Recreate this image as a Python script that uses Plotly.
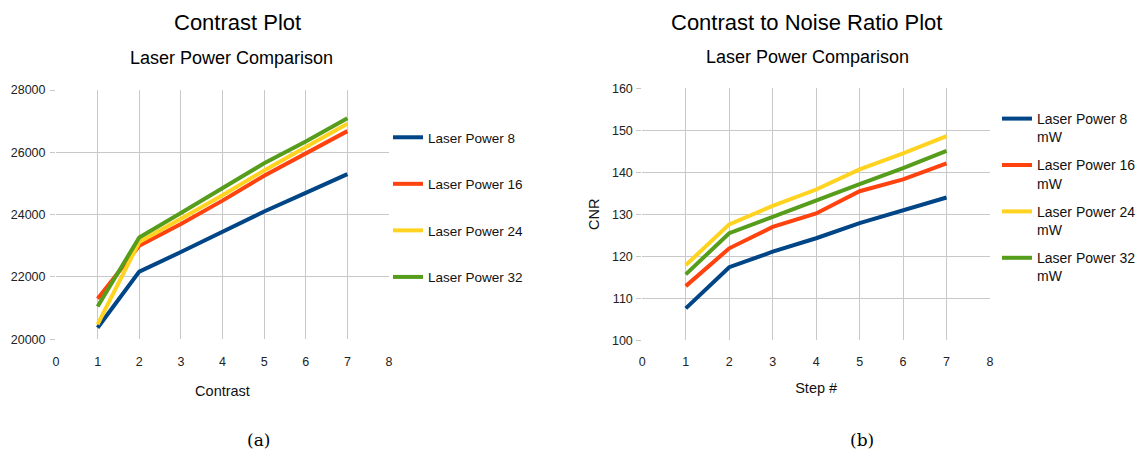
import plotly.graph_objects as go

steps = [1, 2, 3, 4, 5, 6, 7]

series_names_a = ["Laser Power 8", "Laser Power 16", "Laser Power 24", "Laser Power 32"]
series_names_b = ["Laser Power 8<br>mW", "Laser Power 16<br>mW", "Laser Power 24<br>mW", "Laser Power 32<br>mW"]

contrast_lp8 = [20370, 22170, 22800, 23450, 24100, 24700, 25300]
contrast_lp16 = [21300, 23000, 23700, 24450, 25250, 25950, 26680]
contrast_lp24 = [20480, 23120, 23870, 24620, 25420, 26180, 26920]
contrast_lp32 = [21050, 23270, 24050, 24850, 25650, 26350, 27090]

cnr_lp8 = [107.6, 117.4, 121.1, 124.3, 127.9, 131.0, 134.0]
cnr_lp16 = [112.9, 121.9, 127.0, 130.2, 135.5, 138.3, 142.1]
cnr_lp24 = [117.9, 127.6, 132.0, 135.9, 140.7, 144.5, 148.6]
cnr_lp32 = [115.7, 125.5, 129.4, 133.4, 137.2, 141.0, 145.1]

colors = ["#004586", "#FF420E", "#FFD320", "#579D1C"]

W, H = 1141, 457
FONT = "Liberation Sans, Arial, sans-serif"
GRID = "#c8c8c8"

fig = go.Figure()

for name, vals, c in zip(series_names_a,
                         [contrast_lp8, contrast_lp16, contrast_lp24, contrast_lp32], colors):
    fig.add_trace(go.Scatter(x=steps, y=vals, mode="lines", name=name,
                             line=dict(color=c, width=4), xaxis="x", yaxis="y",
                             legend="legend", legendgroup="a" + name))

for name, vals, c in zip(series_names_b,
                         [cnr_lp8, cnr_lp16, cnr_lp24, cnr_lp32], colors):
    fig.add_trace(go.Scatter(x=steps, y=vals, mode="lines", name=name,
                             line=dict(color=c, width=4), xaxis="x2", yaxis="y2",
                             legend="legend2", legendgroup="b" + name))


def px_x(p):
    return p / W


def px_y(p):
    return 1 - p / H


axis_common = dict(showgrid=True, gridcolor=GRID, gridwidth=1, zeroline=False,
                   showline=False, automargin=False, tickformat="d",
                   tickfont=dict(family=FONT, size=12.5, color="#222"),
                   title_font=dict(family=FONT, size=14.5, color="#111"))

fig.update_layout(
    width=W, height=H,
    margin=dict(l=0, r=0, t=0, b=0, autoexpand=False),
    paper_bgcolor="white", plot_bgcolor="white",
    font=dict(family=FONT, color="#111"),
    xaxis=dict(domain=[px_x(56), px_x(389)], range=[0, 8], dtick=1, anchor="y",
               ticks="", ticklabelstandoff=13,
               title=dict(text="Contrast", standoff=18), **axis_common),
    yaxis=dict(domain=[px_y(339.3), px_y(90)], range=[20000, 28000], dtick=2000, anchor="x",
               ticks="outside", ticklen=5, tickcolor=GRID, ticklabelstandoff=2, **axis_common),
    xaxis2=dict(domain=[px_x(642.3), px_x(990)], range=[0, 8], dtick=1, anchor="y2",
                ticks="", ticklabelstandoff=12,
                title=dict(text="Step #", standoff=15), **axis_common),
    yaxis2=dict(domain=[px_y(340.3), px_y(88.3)], range=[100, 160], dtick=10, anchor="x2",
                ticks="outside", ticklen=5, tickcolor=GRID, ticklabelstandoff=1,
                title=dict(text="CNR", standoff=8), **axis_common),
    legend=dict(x=px_x(388), y=px_y(122), xanchor="left", yanchor="top",
                font=dict(family=FONT, size=13.5, color="#111"),
                tracegroupgap=26, itemwidth=30, bgcolor="rgba(0,0,0,0)"),
    legend2=dict(x=px_x(997), y=px_y(103), xanchor="left", yanchor="top",
                 font=dict(family=FONT, size=14, color="#111"),
                 tracegroupgap=7, itemwidth=30, valign="top", bgcolor="rgba(0,0,0,0)"),
    showlegend=True,
)

annotations = [
    dict(text="Contrast Plot", x=px_x(237), y=px_y(22), font=dict(family=FONT, size=22, color="#000")),
    dict(text="Laser Power Comparison", x=px_x(231), y=px_y(58), font=dict(family=FONT, size=18, color="#000")),
    dict(text="Contrast to Noise Ratio Plot", x=px_x(806), y=px_y(22), font=dict(family=FONT, size=22, color="#000")),
    dict(text="Laser Power Comparison", x=px_x(807), y=px_y(57), font=dict(family=FONT, size=18, color="#000")),
    dict(text="(a)", x=px_x(258), y=px_y(440), font=dict(family="DejaVu Serif, Liberation Serif, serif", size=17, color="#000")),
    dict(text="(b)", x=px_x(862), y=px_y(440), font=dict(family="DejaVu Serif, Liberation Serif, serif", size=17, color="#000")),
]
for a in annotations:
    a.update(xref="paper", yref="paper", showarrow=False, xanchor="center", yanchor="middle")
fig.update_layout(annotations=annotations)

fig.write_html("out.html", config={"displayModeBar": False},
               post_script="document.body.style.margin='0';document.body.style.overflow='hidden';")
